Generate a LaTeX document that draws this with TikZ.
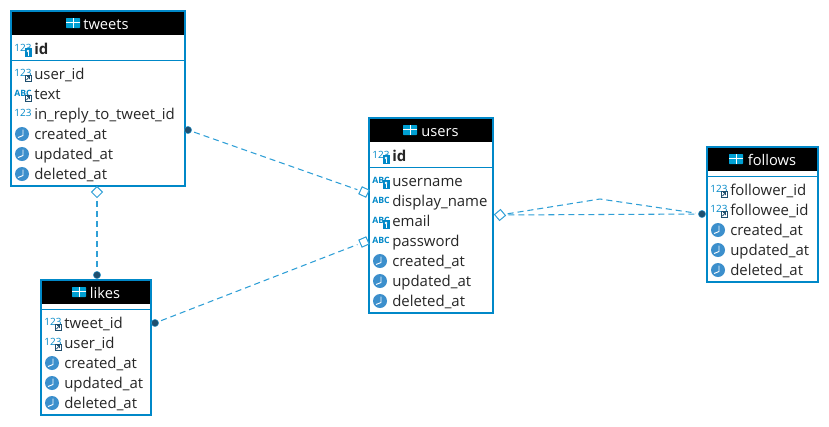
\documentclass[tikz,border=0pt]{standalone}
\usepackage{fontspec}
\setmainfont{Open Sans}
\usetikzlibrary{shapes.geometric}

\definecolor{erblue}{HTML}{0088C8}
\definecolor{linkblue}{HTML}{2F9FD6}
\definecolor{dotdark}{HTML}{1F4F6F}
\definecolor{clockblue}{HTML}{3C8FCC}

% one table row: icon then column name
\newcommand{\colrow}[6][]{%
	\pic at (#3-12,#4) {#2};
	\node[colname,#1] (#5) at (#3,#4+5) {#6};
}

\begin{document}
\begin{tikzpicture}[x=0.75pt,y=-0.75pt]
	\tikzset{
		tablebox/.style={draw=erblue,line width=1.6pt,fill=white},
		headbox/.style={fill=black,inner sep=0pt},
		headname/.style={text=white,anchor=base,font=\fontsize{11}{12}\selectfont,inner sep=0pt},
		colname/.style={anchor=base west,font=\fontsize{11.2}{12}\selectfont,text=black!85,inner sep=0pt},
		keyname/.style={font=\fontsize{11.2}{12}\bfseries\selectfont},
		icontext/.style={font=\fontsize{7.5}{8}\selectfont,text=erblue,inner sep=0pt},
		link/.style={draw=linkblue,dash pattern=on 4.5pt off 3pt,line width=0.8pt,shorten >=2pt,shorten <=2pt},
		fromdot/.style={circle,fill=dotdark,draw=linkblue,line width=0.3pt,minimum size=5.5pt,inner sep=0pt},
		todiamond/.style={diamond,draw=linkblue,fill=white,line width=0.75pt,minimum size=8.5pt,inner sep=0pt},
		tablegrid/.pic={
			\fill[erblue!80!cyan,rounded corners=0.5pt] (-7,-5) rectangle (7,5);
			\draw[white,line width=0.5pt] (-7,-0.5) -- (7,-0.5) (0,-5) -- (0,5);
		},
		numicon/.pic={\node[icontext] at (1,-1.5) {123};},
		abcicon/.pic={\node[icontext,font=\fontsize{6.5}{7}\bfseries\selectfont] at (1,-1) {ABC};},
		keybadge/.pic={
			\fill[erblue] (2.5,-1) rectangle (9.5,8);
			\fill[white] (6,2) circle (1.3);
			\draw[white,line width=0.5pt] (6,3) -- (6,6.5);
		},
		fkbadge/.pic={
			\draw[dotdark,fill=white,line width=0.6pt] (3,1) rectangle (9.5,7.5);
			\draw[dotdark,line width=0.6pt] (4.5,6) -- (7.5,2.5) (5,2.5) -- (7.5,2.5) -- (7.5,5);
		},
		numkey/.pic={\pic {numicon}; \pic {keybadge};},
		abckey/.pic={\pic {abcicon}; \pic {keybadge};},
		numfk/.pic={\pic {numicon}; \pic {fkbadge};},
		abcfk/.pic={\pic {abcicon}; \pic {fkbadge};},
		clockicon/.pic={
			\fill[clockblue] (0,0) circle (7);
			\draw[white,line width=0.7pt] (1,-4.5) -- (1,1.5) -- (-4,3.5);
		},
	}
	\useasboundingbox (0,0) rectangle (829,426);

	% tweets
	\draw[tablebox] (11,11) rectangle (185,186);
	\node[headbox,minimum width=172*0.75pt,minimum height=23*0.75pt] (tweetshead) at (98,23.5) {};
	\pic at (73,23) {tablegrid};
	\node[headname] (tweets) at (106,29) {tweets};
	\draw[erblue,line width=0.6pt] (11,60) -- (185,60);
	\colrow[keyname]{numkey}{34}{49}{tweetsid}{id}
	\colrow{numfk}{34}{74}{tweetsuser}{user\_id}
	\colrow{abcfk}{34}{94}{tweetstext}{text}
	\colrow{numicon}{34}{114}{tweetsreply}{in\_reply\_to\_tweet\_id}
	\colrow{clockicon}{34}{134}{tweetscreated}{created\_at}
	\colrow{clockicon}{34}{154}{tweetsupdated}{updated\_at}
	\colrow{clockicon}{34}{174}{tweetsdeleted}{deleted\_at}

	% likes
	\draw[tablebox] (41,280) rectangle (151,415);
	\node[headbox,minimum width=108*0.75pt,minimum height=23*0.75pt] (likeshead) at (96,292.5) {};
	\pic at (79,292) {tablegrid};
	\node[headname] (likes) at (105,298) {likes};
	\draw[erblue,line width=0.6pt] (41,309) -- (151,309);
	\colrow{numfk}{64}{323}{likestweet}{tweet\_id}
	\colrow{numfk}{64}{343}{likesuser}{user\_id}
	\colrow{clockicon}{64}{363}{likescreated}{created\_at}
	\colrow{clockicon}{64}{383}{likesupdated}{updated\_at}
	\colrow{clockicon}{64}{403}{likesdeleted}{deleted\_at}

	% users
	\draw[tablebox] (369,118) rectangle (493,313);
	\node[headbox,minimum width=122*0.75pt,minimum height=23*0.75pt] (usershead) at (431,130.5) {};
	\pic at (410,130) {tablegrid};
	\node[headname] (users) at (440,136) {users};
	\draw[erblue,line width=0.6pt] (369,167) -- (493,167);
	\colrow[keyname]{numkey}{392}{156}{usersid}{id}
	\colrow{abckey}{392}{181}{usersname}{username}
	\colrow{abcicon}{392}{201}{usersdisplay}{display\_name}
	\colrow{abckey}{392}{221}{usersemail}{email}
	\colrow{abcicon}{392}{241}{userspassword}{password}
	\colrow{clockicon}{392}{261}{userscreated}{created\_at}
	\colrow{clockicon}{392}{281}{usersupdated}{updated\_at}
	\colrow{clockicon}{392}{301}{usersdeleted}{deleted\_at}

	% follows
	\draw[tablebox] (707,147) rectangle (818,282);
	\node[headbox,minimum width=109*0.75pt,minimum height=23*0.75pt] (followshead) at (762.5,159.5) {};
	\pic at (736,159) {tablegrid};
	\node[headname] (follows) at (772,165) {follows};
	\draw[erblue,line width=0.6pt] (707,176) -- (818,176);
	\colrow{numfk}{730}{190}{followsfollower}{follower\_id}
	\colrow{numfk}{730}{210}{followsfollowee}{followee\_id}
	\colrow{clockicon}{730}{230}{followscreated}{created\_at}
	\colrow{clockicon}{730}{250}{followsupdated}{updated\_at}
	\colrow{clockicon}{730}{270}{followsdeleted}{deleted\_at}

	% link ends
	\node[fromdot] (tweetsdot) at (188,130) {};
	\node[todiamond,rotate=19] (usersdiatop) at (364,192) {};
	\node[fromdot] (likesdot) at (155,323) {};
	\node[todiamond,rotate=-21] (usersdiabot) at (364,242) {};
	\node[todiamond] (tweetsdia) at (97,192) {};
	\node[fromdot] (likestop) at (97,275) {};
	\node[todiamond,rotate=-5] (usersdiaright) at (500,215) {};
	\node[fromdot] (followsdot) at (702,214) {};
	\coordinate (bend) at (600,199);

	\draw[link] (tweetsdot) -- (usersdiatop);
	\draw[link] (likesdot) -- (usersdiabot);
	\draw[link] (tweetsdia) -- (likestop);
	\draw[link] (usersdiaright) -- (followsdot);
	\draw[link] (usersdiaright) -- (bend) -- (followsdot);
\end{tikzpicture}
\end{document}
